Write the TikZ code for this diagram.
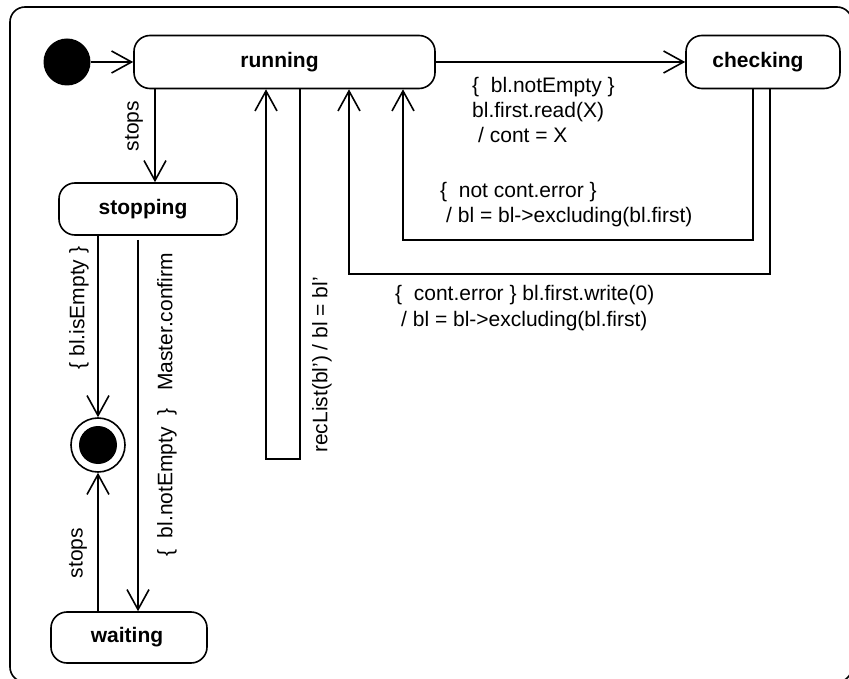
\documentclass[tikz,border=0pt]{standalone}
\usepackage{fontspec}
\setmainfont{Liberation Sans}
\usetikzlibrary{arrows.meta}
\begin{document}
\begin{tikzpicture}[x=1pt,y=-1pt,
  every node/.style={font=\fontsize{21}{25}\selectfont},
  state/.style={draw,line width=1.6pt,rounded corners=16pt,inner sep=0pt,font=\fontsize{21}{25}\selectfont\bfseries},
  conn/.style={line width=1.6pt},
  arr/.style={conn,-{Straight Barb[length=20pt,width=22pt]}},
  lbl/.style={anchor=base west,inner sep=0pt},
  rlbl/.style={rotate=90,inner sep=0pt}]
\useasboundingbox (0,0) rectangle (849,679);
\clip (0,0) rectangle (849,679);
\fill[white] (0,0) rectangle (849,679);
% outer frame
\draw[line width=1.6pt,rounded corners=15pt] (10,7) rectangle (852,682);
% states
\node[circle,fill=black,inner sep=0pt,minimum size=47pt] (init) at (67,62) {};
\node[state,minimum width=301pt,minimum height=53pt] (running) at (284.5,62) {\hspace*{-10pt}running};
\node[state,minimum width=154pt,minimum height=53pt] (checking) at (763,62) {\hspace*{-10pt}checking};
\node[state,minimum width=178pt,minimum height=52pt] (stopping) at (148,209) {\hspace*{-10pt}stopping};
\node[state,minimum width=156pt,minimum height=51pt] (waiting) at (129,637.5) {\hspace*{-4pt}waiting};
\node[circle,draw,line width=1.6pt,inner sep=0pt,minimum size=54pt] (final) at (98,445) {};
\node[circle,fill=black,inner sep=0pt,minimum size=38pt] (finalin) at (final.center) {};
% connectors
\draw[arr] (init.east) -- (init.east -| running.west);
\draw[arr] (running.east) -- (checking.west);
\draw[arr] (running.south -| 155,0) -- (stopping.north -| 155,0);
\draw[arr] (stopping.south -| final.north) -- (final.north);
\draw[arr] ([yshift=-4pt]stopping.south -| 138,0) -- (waiting.north -| 138,0);
\draw[arr] (waiting.north -| final.south) -- (final.south);
\coordinate (c1) at (753,240);
\coordinate (c2) at (403,240);
\draw[arr] (checking.south -| c1) -- (c1) -- (c2) -- (running.south -| c2);
\coordinate (d1) at (770,274);
\coordinate (d2) at (349,274);
\draw[arr] (checking.south -| d1) -- (d1) -- (d2) -- (running.south -| d2);
\coordinate (e1) at (300,459);
\coordinate (e2) at (266,459);
\draw[arr] (running.south -| e1) -- (e1) -- (e2) -- (running.south -| e2);
% labels
\node[lbl] (l1a) at (472,93) {\{\ \ bl.notEmpty \}};
\node[lbl] (l1b) at (472,118) {bl.first.read(X)};
\node[lbl] (l1c) at (478,143) {/ cont = X};
\node[lbl] (l2a) at (440,198) {\{\ \ not cont.error \}};
\node[lbl] (l2b) at (446,223) {/ bl = bl->excluding(bl.first)};
\node[lbl] (l3a) at (395,301) {\{\ \ cont.error \} bl.first.write(0)};
\node[lbl] (l3b) at (401,326) {/ bl = bl->excluding(bl.first)};
\node[rlbl] (r1) at (134,126) {stops};
\node[rlbl] (r2) at (79,308) {\{ bl.isEmpty \}};
\node[rlbl] (r3) at (78,553) {stops};
\node[rlbl] (r4) at (167,405) {\{\ \ bl.notEmpty\ \ \}\ \ \ Master.confirm};
\node[rlbl] (r5) at (322,365) {recList(bl') / bl = bl'};
\end{tikzpicture}
\end{document}
